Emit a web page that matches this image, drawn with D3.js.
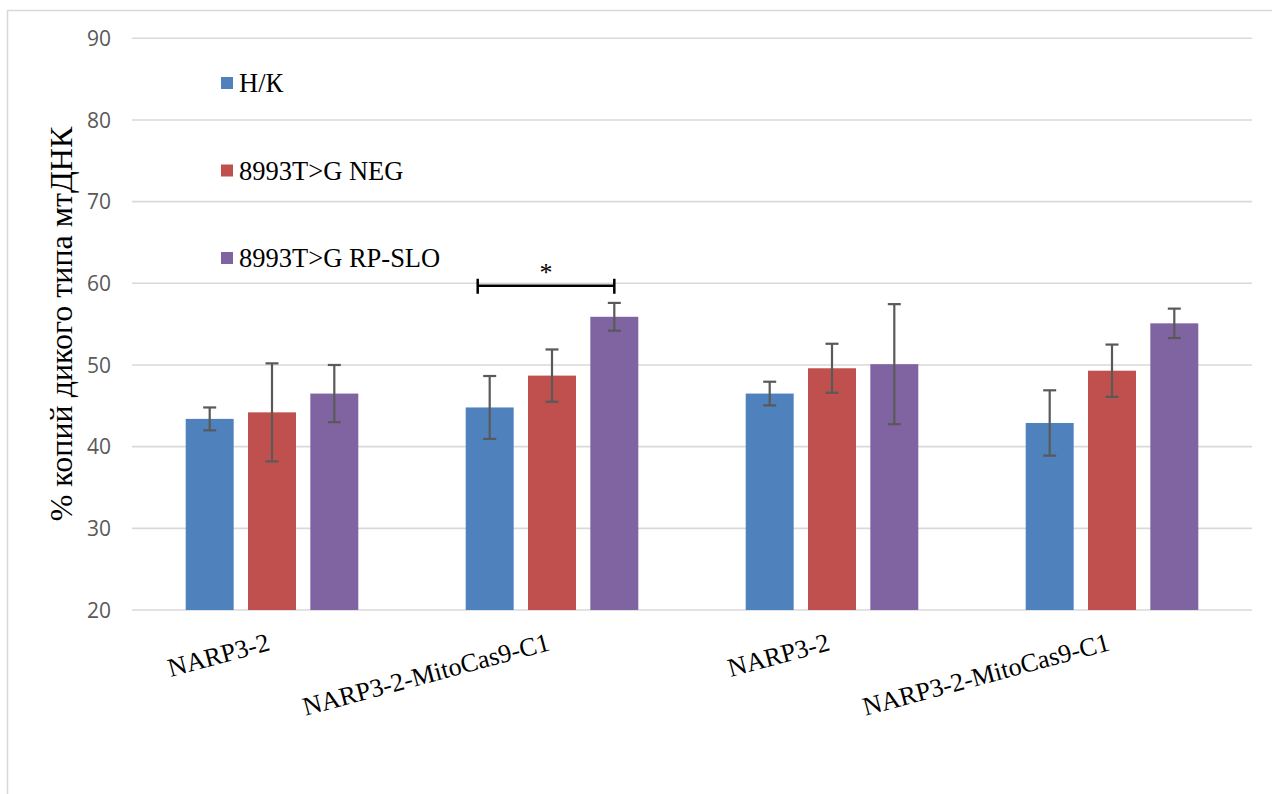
<!DOCTYPE html>
<html><head><meta charset="utf-8">
<script src="https://cdn.jsdelivr.net/npm/d3@7"></script>
<style>body{margin:0;background:#fff}svg{display:block}</style>
</head><body>
<svg id="c" width="1272" height="794"></svg>
<script>
const categories = ["NARP3-2", "NARP3-2-MitoCas9-C1", "NARP3-2", "NARP3-2-MitoCas9-C1"];
const seriesNames = ["Н/К", "8993T>G NEG", "8993T>G RP-SLO"];
const valuesNK  = [43.4, 44.8, 46.5, 42.9];
const valuesNEG = [44.2, 48.7, 49.6, 49.3];
const valuesRP  = [46.5, 55.9, 50.1, 55.1];
const errNK  = [1.4, 3.85, 1.45, 4.0];
const errNEG = [6.0, 3.2, 3.0, 3.2];
const errRP  = [3.5, 1.7, 7.35, 1.8];
const yTicks = [20, 30, 40, 50, 60, 70, 80, 90];
const yTitle = "% копий дикого типа мтДНК";
const sigGroup = 1, sigFrom = 0, sigTo = 2, sigLevel = 59.7, sigLabel = "*";

const colors = ["#4f81bd", "#c0504d", "#8064a2"];
const values = [valuesNK, valuesNEG, valuesRP];
const errs = [errNK, errNEG, errRP];

const svg = d3.select("#c");
// outer chart border
svg.append("rect").attr("x", 7.5).attr("y", 10.5).attr("width", 1300).attr("height", 800)
  .attr("fill", "none").attr("stroke", "#d9d9d9").attr("stroke-width", 1.5);

const x0 = d3.scaleBand().domain(d3.range(categories.length)).range([132, 1252]).padding(0);
const x1 = d3.scaleBand().domain(d3.range(seriesNames.length)).range([0, x0.bandwidth()])
  .paddingInner(0.23).paddingOuter(0.862);
const y = d3.scaleLinear().domain([20, 90]).range([610, 38.3]);

// gridlines
svg.append("g").selectAll("line").data(yTicks).join("line")
  .attr("x1", 132).attr("x2", 1252)
  .attr("y1", d => y(d)).attr("y2", d => y(d))
  .attr("stroke", "#d9d9d9").attr("stroke-width", 1.6);

// y axis labels
const yAxis = d3.axisLeft(y).tickValues(yTicks).tickSize(0).tickPadding(0);
const ya = svg.append("g").attr("transform", "translate(111,0)").call(yAxis);
ya.select(".domain").remove();
ya.selectAll("text").attr("font-family", "'Open Sans', sans-serif").attr("font-size", 21)
  .attr("fill", "#595959").attr("dy", "0.34em");

// bars
const flat = [];
values.forEach((vals, s) => vals.forEach((v, g) => flat.push({s, g, v, e: errs[s][g]})));
svg.append("g").selectAll("rect").data(flat).join("rect")
  .attr("x", d => x0(d.g) + x1(d.s))
  .attr("width", x1.bandwidth())
  .attr("y", d => y(d.v))
  .attr("height", d => y(20) - y(d.v))
  .attr("fill", d => colors[d.s]);

// error bars
const eg = svg.append("g").attr("stroke", "#595959").attr("stroke-width", 2.2);
const cx = d => x0(d.g) + x1(d.s) + x1.bandwidth() / 2;
eg.selectAll(".v").data(flat).join("line")
  .attr("x1", cx).attr("x2", cx)
  .attr("y1", d => y(d.v + d.e)).attr("y2", d => y(d.v - d.e));
eg.selectAll(".t").data(flat).join("line")
  .attr("x1", d => cx(d) - 6.5).attr("x2", d => cx(d) + 6.5)
  .attr("y1", d => y(d.v + d.e)).attr("y2", d => y(d.v + d.e));
eg.selectAll(".b").data(flat).join("line")
  .attr("x1", d => cx(d) - 6.5).attr("x2", d => cx(d) + 6.5)
  .attr("y1", d => y(d.v - d.e)).attr("y2", d => y(d.v - d.e));

// x labels
svg.append("g").selectAll("text").data(categories).join("text")
  .attr("transform", (d, i) => `translate(${x0(i) + x0.bandwidth() / 2 - 1},650) rotate(-15)`)
  .attr("text-anchor", "end")
  .attr("font-family", "'Liberation Serif', 'Times New Roman', serif")
  .attr("font-size", 26).attr("fill", "#000")
  .text(d => d);

// y title
svg.append("text")
  .attr("transform", `translate(72,${(126 + 522) / 2}) rotate(-90)`)
  .attr("text-anchor", "middle")
  .attr("font-family", "'Liberation Serif', 'Times New Roman', serif")
  .attr("font-size", 32).attr("fill", "#000")
  .text(yTitle);

// legend
const lg = svg.append("g").selectAll("g").data(seriesNames).join("g")
  .attr("transform", (d, i) => `translate(221,${83 + i * 87.5})`);
lg.append("rect").attr("x", 0).attr("y", -6).attr("width", 12).attr("height", 12)
  .attr("fill", (d, i) => colors[i]);
lg.append("text").attr("x", 18).attr("y", 9)
  .attr("font-family", "'Liberation Serif', 'Times New Roman', serif")
  .attr("font-size", 26.5).attr("fill", "#000").text(d => d);

// significance bracket
const bx1 = x0(sigGroup) + x1(sigFrom) + x1.bandwidth() * 0.25;
const bx2 = x0(sigGroup) + x1(sigTo) + x1.bandwidth() * 0.5;
const by = y(sigLevel);
const sg = svg.append("g").attr("stroke", "#000").attr("stroke-width", 2.5);
sg.append("line").attr("x1", bx1).attr("x2", bx2).attr("y1", by).attr("y2", by);
sg.append("line").attr("x1", bx1).attr("x2", bx1).attr("y1", by - 7).attr("y2", by + 8);
sg.append("line").attr("x1", bx2).attr("x2", bx2).attr("y1", by - 7).attr("y2", by + 8);
svg.append("text").attr("x", (bx1 + bx2) / 2).attr("y", by - 5)
  .attr("text-anchor", "middle")
  .attr("font-family", "'Liberation Serif', 'Times New Roman', serif")
  .attr("font-size", 26).attr("fill", "#000").text(sigLabel);
</script>
</body></html>
